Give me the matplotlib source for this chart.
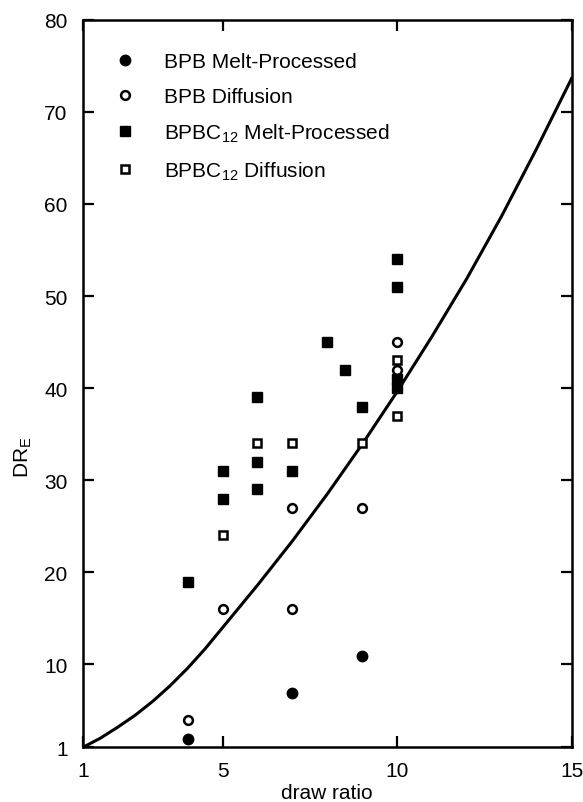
import matplotlib

matplotlib.use("Agg")
import matplotlib.pyplot as plt

# data
bpb_melt_x = [4, 7, 9]
bpb_melt_y = [1.9, 6.9, 10.9]

bpb_diff_x = [4, 5, 7, 7, 9, 10, 10]
bpb_diff_y = [4.0, 16, 16, 27, 27, 45, 42]

bpbc_melt_x = [4, 5, 5, 6, 6, 6, 7, 8, 8.5, 9, 10, 10, 10, 10]
bpbc_melt_y = [19, 31, 28, 39, 32, 29, 31, 45, 42, 38, 54, 51, 41, 40]

bpbc_diff_x = [5, 6, 7, 9, 10, 10]
bpbc_diff_y = [24, 34, 34, 34, 43, 37]

# model curve
curve_x = [1, 1.5, 2, 2.5, 3, 3.5, 4, 4.5, 5, 6, 7, 8, 9, 10, 11, 12, 13, 14, 15]
curve_y = [1, 2.0, 3.2, 4.5, 6.0, 7.7, 9.6, 11.7, 14.0, 18.6, 23.4, 28.5, 33.9,
           39.6, 45.6, 51.9, 58.7, 66.0, 73.6]

x_ticks = [1, 5, 10, 15]
y_ticks = [1, 10, 20, 30, 40, 50, 60, 70, 80]

plt.rcParams["font.family"] = ["Liberation Sans", "DejaVu Sans"]
plt.rcParams["font.size"] = 15

fig = plt.figure(figsize=(5.83, 8.03), dpi=100)
ax = fig.add_axes([0.1424, 0.0681, 0.8379, 0.9061])

ax.plot(curve_x, curve_y, color="black", lw=2.2, zorder=2)

ax.plot(bpb_melt_x, bpb_melt_y, "o", ls="none", color="black", ms=7.5,
        label="BPB Melt-Processed", zorder=3)
ax.plot(bpb_diff_x, bpb_diff_y, "o", ls="none", mfc="white", mec="black", ms=6.3,
        mew=1.8, label="BPB Diffusion", zorder=3)
ax.plot(bpbc_melt_x, bpbc_melt_y, "s", ls="none", color="black", ms=7.5,
        label=r"BPBC$_{\mathregular{12}}$ Melt-Processed", zorder=3)
ax.plot(bpbc_diff_x, bpbc_diff_y, "s", ls="none", mfc="white", mec="black", ms=6.3,
        mew=1.8, label=r"BPBC$_{\mathregular{12}}$ Diffusion", zorder=3)

ax.set_xlim(1, 15)
ax.set_ylim(1, 80)
ax.set_xticks(x_ticks)
ax.set_yticks(y_ticks)

for side in ["left", "right", "top", "bottom"]:
    ax.spines[side].set_linewidth(1.8)

ax.tick_params(direction="in", length=8, width=1.6, top=True, right=True,
               labelsize=15)
ax.tick_params(axis="x", pad=10)
ax.tick_params(axis="y", pad=11)

ax.set_xlabel("draw ratio", fontsize=15, labelpad=2)
ax.set_ylabel(r"DR$_{\mathregular{E}}$", fontsize=15)
ax.yaxis.set_label_coords(-0.1, 0.40)

ax.legend(loc="upper left", bbox_to_anchor=(0.0637, 0.955), frameon=False,
          numpoints=1, handlelength=1.0, handletextpad=1.38, borderpad=0,
          borderaxespad=0, labelspacing=0.74, fontsize=15)

fig.savefig("out.png", dpi=100)
plt.close(fig)
